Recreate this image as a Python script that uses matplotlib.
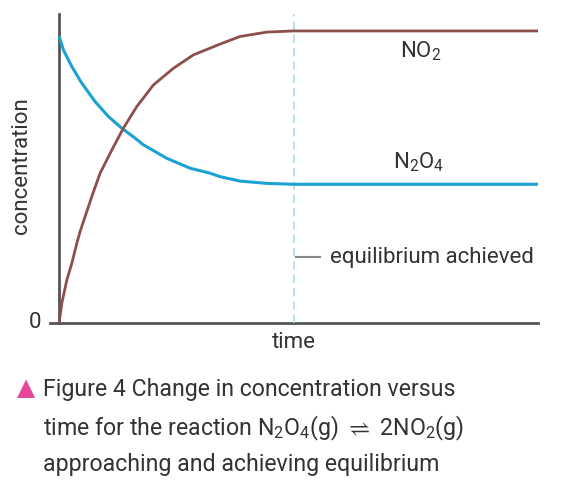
import matplotlib
matplotlib.use("Agg")
import matplotlib.pyplot as plt

plt.rcParams['font.family'] = ['Roboto', 'DejaVu Sans']
plt.rcParams['mathtext.fontset'] = 'custom'
plt.rcParams['mathtext.rm'] = 'Roboto'
plt.rcParams['mathtext.it'] = 'Roboto'

# values (time in arbitrary units, concentration relative to NO2 plateau)
t_no2 = [0, 0.056, 0.161, 0.265, 0.370, 0.438, 0.683, 0.856, 1.100, 1.342, 1.622, 1.969,
         2.386, 2.804, 3.152, 3.361, 3.779, 4.336, 4.891, 10]
c_no2 = [0, 0.067, 0.147, 0.204, 0.273, 0.313, 0.433, 0.513, 0.592, 0.667, 0.741, 0.815,
         0.872, 0.918, 0.941, 0.955, 0.981, 0.996, 1.0, 1.0]
t_n2o4 = [0, 0.090, 0.265, 0.474, 0.752, 1.029, 1.309, 1.587, 1.760, 2.248, 2.735, 3.152,
          3.361, 3.779, 4.336, 4.891, 10]
c_n2o4 = [0.982, 0.935, 0.878, 0.821, 0.758, 0.707, 0.667, 0.633, 0.610, 0.564, 0.530, 0.513,
          0.501, 0.486, 0.478, 0.475, 0.475]
t_eq = 4.9

brown = '#8c4f4b'
blue = '#1ca2d2'
axcol = '#555555'
txt = '#333333'

fig = plt.figure(figsize=(5.62, 4.94), dpi=100)
ax = fig.add_axes([50/562, 1-323/494, 488/562, 309/494])
ax.set_xlim(-0.19, 10)
ax.set_ylim(0, 1.058)
for s in ax.spines.values():
    s.set_visible(False)
ax.set_xticks([])
ax.set_yticks([])

# axes lines
ax.axhline(0, color=axcol, lw=2, clip_on=False, zorder=1)
ax.axvline(0, color=axcol, lw=2, clip_on=False, zorder=1)
# equilibrium marker
ax.axvline(t_eq, color='#a6dbe9', lw=1.2, ls=(0, (5, 3)), zorder=1)
ax.plot([t_eq + 0.05, t_eq + 0.55], [0.225, 0.225], color='#888888', lw=1.5)

ax.plot(t_no2, c_no2, color=brown, lw=2, solid_capstyle='butt', solid_joinstyle='round', zorder=3)
ax.plot(t_n2o4, c_n2o4, color=blue, lw=2.2, solid_capstyle='butt', solid_joinstyle='round', zorder=2)

fs = 16
ax.text(7.55, 0.93, 'NO$_2$', ha='center', va='center', fontsize=fs, color=txt)
ax.text(7.5, 0.55, 'N$_2$O$_4$', ha='center', va='center', fontsize=fs, color=txt)
ax.text(5.65, 0.225, 'equilibrium achieved', ha='left', va='center', fontsize=fs, color=txt)

fig.text(35/562, 1-323/494, '0', ha='center', va='center', fontsize=fs, color=txt)
fig.text(294/562, 1-343/494, 'time', ha='center', va='center', fontsize=fs, color=txt)
fig.text(22/562, 1-166/494, 'concentration', ha='center', va='center', rotation=90, fontsize=fs, color=txt)

# caption
cfs = 16.7
fig.text(26/562, 1-388/494, '\u25B2', ha='center', va='center', fontsize=17, color='#e6479a',
         family=['DejaVu Sans'])
fig.text(43/562, 1-389/494, 'Figure 4 Change in concentration versus', ha='left', va='center',
         fontsize=cfs, color=txt)
fig.text(43/562, 1-428/494, r'time for the reaction N$_2$O$_4$(g) $\rightleftharpoons$ 2NO$_2$(g)',
         ha='left', va='center', fontsize=cfs, color=txt)
fig.text(43/562, 1-465/494, 'approaching and achieving equilibrium', ha='left', va='center',
         fontsize=cfs, color=txt)

fig.savefig('out.png', dpi=100)
